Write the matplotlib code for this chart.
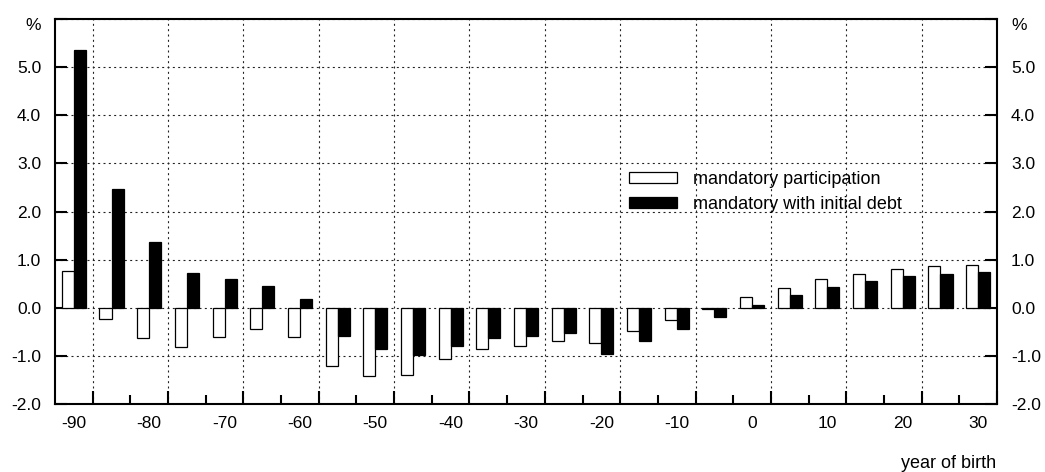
import matplotlib
matplotlib.use("Agg")
import matplotlib.pyplot as plt
import matplotlib.transforms as mtransforms
import numpy as np

# ---- data ----
years = [-90, -85, -80, -75, -70, -65, -60, -55, -50, -45, -40, -35, -30,
         -25, -20, -15, -10, -5, 0, 5, 10, 15, 20, 25, 30]
mandatory_participation = [0.77, -0.24, -0.62, -0.81, -0.60, -0.44, -0.60, -1.21,
                           -1.41, -1.39, -1.07, -0.85, -0.79, -0.69, -0.74, -0.49,
                           -0.25, -0.02, 0.22, 0.42, 0.59, 0.71, 0.81, 0.86, 0.89]
mandatory_initial_debt = [5.35, 2.46, 1.37, 0.73, 0.59, 0.46, 0.18, -0.58,
                          -0.86, -0.98, -0.80, -0.62, -0.59, -0.53, -0.96, -0.69,
                          -0.45, -0.19, 0.055, 0.26, 0.44, 0.56, 0.66, 0.71, 0.74]
series_labels = ["mandatory participation", "mandatory with initial debt"]
y_ticks = [-2, -1, 0, 1, 2, 3, 4, 5, 6]
y_tick_labels = ["-2.0", "-1.0", "0.0", "1.0", "2.0", "3.0", "4.0", "5.0", "%"]
x_label = "year of birth"

plt.rcParams['font.family'] = ['Liberation Sans', 'DejaVu Sans']

fig = plt.figure(figsize=(10.45, 4.72), dpi=100)
ax = fig.add_axes([55/1045, 1-404/472, (997-55)/1045, (404-19)/472])

n = len(years)
idx = np.arange(n)
bw = 0.32
ax.bar(idx - bw/2, mandatory_participation, width=bw, color='white',
       edgecolor='black', linewidth=0.9, label=series_labels[0], zorder=3)
ax.bar(idx + bw/2, mandatory_initial_debt, width=bw, color='black',
       edgecolor='black', linewidth=0.9, label=series_labels[1], zorder=3)

ax.set_xlim(-0.5, n - 0.5)
ax.set_ylim(-2, 6)

# x ticks: major (with grid) at boundaries after even categories, minor after odd ones
major_pos = [i + 0.5 for i in range(0, n, 2)]
minor_pos = [i + 0.5 for i in range(1, n, 2)]
ax.set_xticks(major_pos)
ax.set_xticklabels([str(years[i]) for i in range(0, n, 2)])
ax.set_xticks(minor_pos, minor=True)

ax.set_yticks(y_ticks)
ax.set_yticklabels(y_tick_labels)

ax.tick_params(axis='x', which='major', direction='in', length=9.5, width=1.5,
               labelsize=12.5, pad=9, top=False)
ax.tick_params(axis='x', which='minor', direction='in', length=6.5, width=1.5,
               top=False)
ax.tick_params(axis='y', which='major', direction='in', length=8.6, width=1.5,
               labelsize=12.5, pad=10, left=True, right=True,
               labelleft=True, labelright=True)

# shift x tick labels left by half a category so they sit under the bar pairs
fig_w_in = fig.get_figwidth()
cat_in = ax.get_position().width * fig_w_in / n
offset = mtransforms.ScaledTranslation(-cat_in / 2, 0, fig.dpi_scale_trans)
for t in ax.xaxis.get_major_ticks():
    t.label1.set_transform(t.label1.get_transform() + offset)

# move the "%" unit labels slightly down
pct_off = mtransforms.ScaledTranslation(0, -0.05, fig.dpi_scale_trans)
top_tick = ax.yaxis.get_major_ticks()[-1]
top_tick.label1.set_transform(top_tick.label1.get_transform() + pct_off)
top_tick.label2.set_transform(top_tick.label2.get_transform() + pct_off)

for s in ax.spines.values():
    s.set_linewidth(1.5)

ax.set_axisbelow(True)
ax.grid(True, which='major', axis='both', color='#222222', linewidth=0.8,
        linestyle=(0, (1.8, 3.0)))

leg = ax.legend(loc='upper left', bbox_to_anchor=(629/1045, 1-171/472),
                bbox_transform=fig.transFigure, frameon=False, fontsize=13,
                borderpad=0, borderaxespad=0, handlelength=2.67,
                handleheight=0.55, handletextpad=0.85, labelspacing=0.45)

fig.text(996/1045, 1-463/472, x_label, ha='right', va='center', fontsize=13)

fig.savefig("out.png", dpi=100)
